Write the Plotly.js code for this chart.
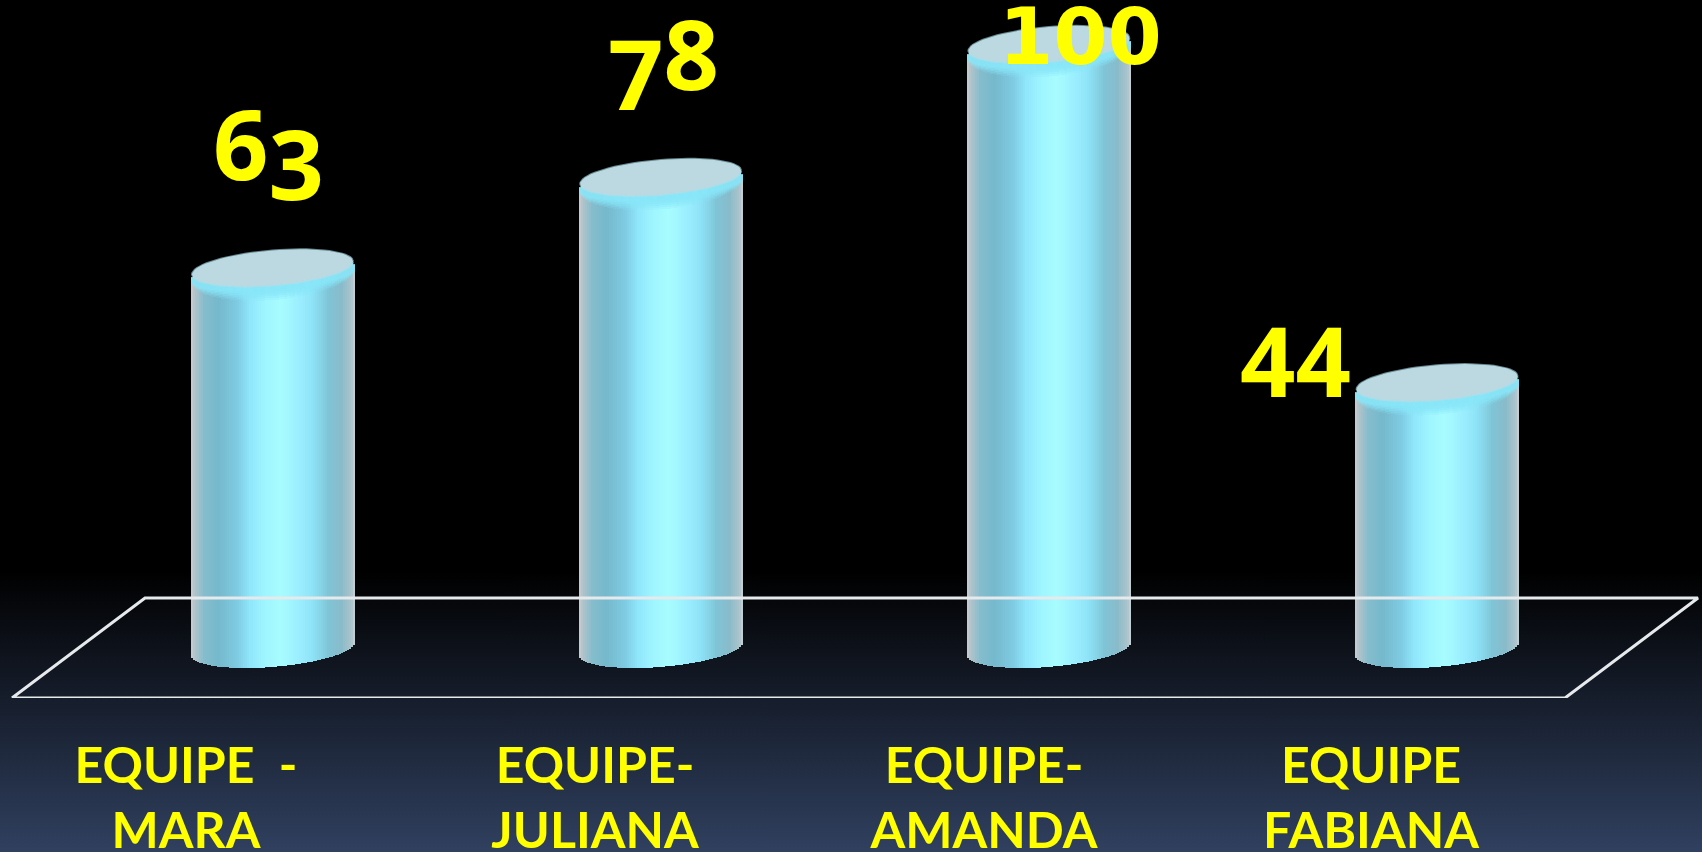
<!DOCTYPE html>
<html>
<head>
<meta charset="utf-8">
<script src="https://cdn.plot.ly/plotly-3.0.1.min.js"></script>
<style>
html,body{margin:0;padding:0;width:1702px;height:852px;overflow:hidden;
background:linear-gradient(to bottom,#000 0,#000 67%,#30405f 100%);}
#chart{width:1702px;height:852px;}
</style>
</head>
<body>
<div id="chart"></div>
<script>
// ---- data ----
const teams = ["EQUIPE \u00a0-<br>MARA", "EQUIPE-<br>JULIANA", "EQUIPE-<br>AMANDA", "EQUIPE<br>FABIANA"];
const values = [63, 78, 100, 44];
const valueLabels = [
  "6<sub><span style='font-size:143%'>3</span></sub>",
  "<sub><span style='font-size:143%'>7</span></sub>8",
  "100",
  "44"
];
// ---- styling ----
const W = 1702, H = 852, floorFront = 698, zeroPx = 655, pxPerUnit = 6.04;
const firstCentre = 272.5, spacing = 388.2;
const halfWidth = 82, strip = 2, topDrop = 7;
const xd = p => (p - firstCentre) / spacing;
const yd = p => (zeroPx - p) / pxPerUnit;
const dy = p => p / pxPerUnit;
const stops = [[0,'#c8ced2'],[0.02,'#b2c4cb'],[0.08,'#85bdcd'],[0.17,'#75b9cd'],[0.28,'#7ecbe2'],[0.36,'#90e6fb'],
               [0.46,'#a0f6ff'],[0.55,'#a8fcff'],[0.66,'#9aeeff'],[0.74,'#8fe3f6'],[0.84,'#7fc4d6'],[0.92,'#8abbc9'],[0.98,'#aec4cb'],[1,'#ccd3d6']];
function hex(c){return [1,3,5].map(i=>parseInt(c.substr(i,2),16));}
function grad(t){
  for(let k=1;k<stops.length;k++){
    if(t<=stops[k][0]){
      const a=stops[k-1],b=stops[k],f=(t-a[0])/(b[0]-a[0]);
      const A=hex(a[1]),B=hex(b[1]);
      return 'rgb('+A.map((v,i)=>Math.round(v+(B[i]-v)*f)).join(',')+')';
    }
  }
  return stops[stops.length-1][1];
}
const tilt = 6.5, chordLift = 6.5;
const lower = s => Math.sqrt(Math.max(0,1-s*s));

const bx=[],bw=[],bbase=[],bh=[],bc=[];
const traces=[];

// floor frame
traces.push({type:'scatter',mode:'lines',name:'floor',cliponaxis:false,hoverinfo:'skip',showlegend:false,
  x:[12,145,1698,1565,12].map(xd), y:[698,598,598,698,698].map(yd),
  line:{color:'#e6eaec',width:3}});

// cylinder bodies
values.forEach((v,i)=>{
  const cx = firstCentre + spacing*i;
  const n = Math.round(2*halfWidth/strip);
  for(let k=0;k<n;k++){
    const px = cx - halfWidth + (k+0.5)*strip;
    const s = (px-cx)/halfWidth;
    const root = lower(s);
    const chord = dy(chordLift) + dy(tilt)*s;
    const b = chord - dy(18.4)*root;
    const top = v + chord + dy(20 - topDrop)*root - dy(topDrop)*(1-root);
    bx.push(xd(px)); bw.push(strip/spacing); bbase.push(b); bh.push(top-b); bc.push(grad((k+0.5)/n));
  }
});
traces.push({type:'bar',name:'cylinder',x:bx,y:bh,base:bbase,width:bw,marker:{color:bc,line:{width:0}},hoverinfo:'skip',showlegend:false});

// soft lit band under each top, drawn as stacked translucent layers
const glowLayers = [[25,0.25],[23,0.35],[21,0.45],[19,0.55],[17,0.7],[15,0.8]];
glowLayers.forEach(g=>{
  const gx=[],gb=[],gh=[],gc=[];
  values.forEach((v,i)=>{
    const cx = firstCentre + spacing*i;
    const n = Math.round(2*halfWidth/strip);
    for(let k=0;k<n;k++){
      const px = cx - halfWidth + (k+0.5)*strip;
      const s = (px-cx)/halfWidth;
      const root = lower(s);
      const chord = dy(chordLift) + dy(tilt)*s - dy(topDrop);
      const b = v + chord - dy(g[0])*root;
      gx.push(xd(px)); gb.push(b); gh.push(dy(g[0]+14)*root+dy(2));
      gc.push('rgba(136,230,248,'+(g[1]*(1-0.45*Math.abs(s))).toFixed(3)+')');
    }
  });
  traces.push({type:'bar',name:'rim',x:gx,y:gh,base:gb,width:strip/spacing,marker:{color:gc,line:{width:0}},hoverinfo:'skip',showlegend:false});
});

// top caps
values.forEach((v,i)=>{
  const cx = firstCentre + spacing*i;
  const xs=[],ys=[];
  for(let a=0;a<=72;a++){
    const th=a/72*2*Math.PI, c=Math.cos(th), sn=Math.sin(th);
    xs.push(xd(cx+80.5*c));
    ys.push(v + dy(chordLift - topDrop) + dy(tilt)*c + dy(7) + dy(17.5)*sn);
  }
  traces.push({type:'scatter',mode:'lines',fill:'toself',fillcolor:'#bcd8e0',x:xs,y:ys,line:{color:'rgba(176,222,232,0.6)',width:2},hoverinfo:'skip',showlegend:false});
});

const labelPos = [[268,212,'Noto Sans',97,700],[663,122,'Noto Sans',97,700],[1080,66,'DejaVu Sans',78,700],[1295,409,'Noto Sans',97,700]];
const annotations = values.map((v,i)=>({
  x:xd(labelPos[i][0]), y:yd(labelPos[i][1]), xref:'x', yref:'y', text:valueLabels[i], showarrow:false,
  xanchor:'center', yanchor:'bottom', yshift:-18,
  font:{family:labelPos[i][2],size:labelPos[i][3],weight:labelPos[i][4],color:'#ffff00'}
}));

const labelCentres = [186,595,984,1371];
const layout = {
  width:W,height:H,
  margin:{l:0,r:0,t:0,b:H-floorFront,pad:0},
  paper_bgcolor:'rgba(0,0,0,0)',plot_bgcolor:'rgba(0,0,0,0)',
  barmode:'overlay',bargap:0,showlegend:false,
  xaxis:{range:[xd(0),xd(W)],showgrid:false,zeroline:false,showline:false,
    tickmode:'array',tickvals:labelCentres.map(xd),ticktext:teams,ticks:'outside',ticklen:24,tickcolor:'rgba(0,0,0,0)',
    tickangle:0,automargin:false,
    tickfont:{family:'Lato',size:50,weight:700,color:'#ffff00'}},
  yaxis:{range:[yd(floorFront),yd(0)],visible:false,showgrid:false,zeroline:false},
  annotations
};
Plotly.newPlot('chart',traces,layout,{staticPlot:true,displayModeBar:false});
</script>
</body>
</html>
